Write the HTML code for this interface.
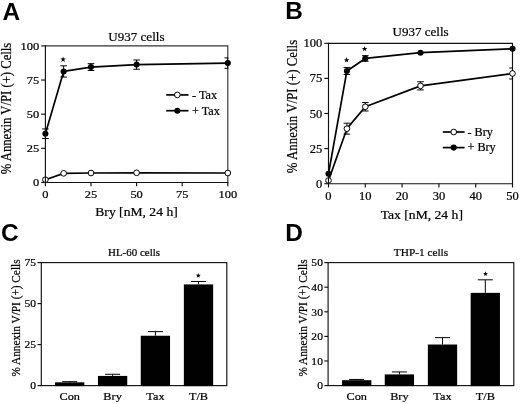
<!DOCTYPE html>
<html><head><meta charset="utf-8"><title>Figure</title>
<style>
html,body{margin:0;padding:0;background:#fff;}
body{width:520px;height:404px;overflow:hidden;font-family:"Liberation Serif",serif;}
svg{display:block;position:absolute;left:0;top:0;opacity:0.999;will-change:transform;filter:blur(0.3px);}
svg text{fill:#000;stroke:#000;stroke-linejoin:round;}
.se{font-family:"Liberation Serif",serif;font-weight:normal;}
.sb{font-family:"Liberation Sans",sans-serif;font-weight:bold;}
</style>
</head><body>
<svg width="520" height="404" viewBox="0 0 520 404">
<clipPath id="clipA"><rect x="35.4" y="35.9" width="192.9" height="156.6"/></clipPath>
<polyline fill="none" stroke="#333" stroke-width="1.15" points="45.4,45.9 227.8,45.9 227.8,182.5"/>
<g clip-path="url(#clipA)">
</g>
<polyline fill="none" stroke="#000" stroke-width="1.7" stroke-linejoin="round" points="45.4,179.7 63.64,173.35 91,173.01 136.6,172.8 227.8,173.01"/>
<circle cx="45.4" cy="179.7" r="2.85" fill="#fff" stroke="#000" stroke-width="1.0"/>
<circle cx="63.64" cy="173.35" r="2.85" fill="#fff" stroke="#000" stroke-width="1.0"/>
<circle cx="91" cy="173.01" r="2.85" fill="#fff" stroke="#000" stroke-width="1.0"/>
<circle cx="136.6" cy="172.8" r="2.85" fill="#fff" stroke="#000" stroke-width="1.0"/>
<circle cx="227.8" cy="173.01" r="2.85" fill="#fff" stroke="#000" stroke-width="1.0"/>
<g clip-path="url(#clipA)">
<line x1="45.4" y1="128.95" x2="45.4" y2="138.51" stroke="#000" stroke-width="1"/>
<line x1="42.1" y1="128.95" x2="48.7" y2="128.95" stroke="#000" stroke-width="1"/>
<line x1="42.1" y1="138.51" x2="48.7" y2="138.51" stroke="#000" stroke-width="1"/>
<line x1="63.64" y1="65.84" x2="63.64" y2="77.04" stroke="#000" stroke-width="1"/>
<line x1="60.34" y1="65.84" x2="66.94" y2="65.84" stroke="#000" stroke-width="1"/>
<line x1="60.34" y1="77.04" x2="66.94" y2="77.04" stroke="#000" stroke-width="1"/>
<line x1="91" y1="63.66" x2="91" y2="70.49" stroke="#000" stroke-width="1"/>
<line x1="87.7" y1="63.66" x2="94.3" y2="63.66" stroke="#000" stroke-width="1"/>
<line x1="87.7" y1="70.49" x2="94.3" y2="70.49" stroke="#000" stroke-width="1"/>
<line x1="136.6" y1="59.97" x2="136.6" y2="69.26" stroke="#000" stroke-width="1"/>
<line x1="133.3" y1="59.97" x2="139.9" y2="59.97" stroke="#000" stroke-width="1"/>
<line x1="133.3" y1="69.26" x2="139.9" y2="69.26" stroke="#000" stroke-width="1"/>
<line x1="227.8" y1="57.92" x2="227.8" y2="68.3" stroke="#000" stroke-width="1"/>
<line x1="224.5" y1="57.92" x2="231.1" y2="57.92" stroke="#000" stroke-width="1"/>
<line x1="224.5" y1="68.3" x2="231.1" y2="68.3" stroke="#000" stroke-width="1"/>
</g>
<polyline fill="none" stroke="#000" stroke-width="1.7" stroke-linejoin="round" points="45.4,133.73 63.64,71.44 91,67.07 136.6,64.61 227.8,63.11"/>
<circle cx="45.4" cy="133.73" r="3.05" fill="#000"/>
<circle cx="63.64" cy="71.44" r="3.05" fill="#000"/>
<circle cx="91" cy="67.07" r="3.05" fill="#000"/>
<circle cx="136.6" cy="64.61" r="3.05" fill="#000"/>
<circle cx="227.8" cy="63.11" r="3.05" fill="#000"/>
<polyline fill="none" stroke="#111" stroke-width="1.15" points="45.4,45.32 45.4,182.5 228.38,182.5"/>
<line x1="41.2" y1="182.5" x2="45.4" y2="182.5" stroke="#111" stroke-width="1.15"/>
<text class="se" transform="translate(39.2 186.4) scale(1.1 1)" font-size="11.3" text-anchor="end" stroke-width="0.22">0</text>
<line x1="41.2" y1="148.35" x2="45.4" y2="148.35" stroke="#111" stroke-width="1.15"/>
<text class="se" transform="translate(39.2 152.25) scale(1.1 1)" font-size="11.3" text-anchor="end" stroke-width="0.22">25</text>
<line x1="41.2" y1="114.2" x2="45.4" y2="114.2" stroke="#111" stroke-width="1.15"/>
<text class="se" transform="translate(39.2 118.1) scale(1.1 1)" font-size="11.3" text-anchor="end" stroke-width="0.22">50</text>
<line x1="41.2" y1="80.05" x2="45.4" y2="80.05" stroke="#111" stroke-width="1.15"/>
<text class="se" transform="translate(39.2 83.95) scale(1.1 1)" font-size="11.3" text-anchor="end" stroke-width="0.22">75</text>
<line x1="41.2" y1="45.9" x2="45.4" y2="45.9" stroke="#111" stroke-width="1.15"/>
<text class="se" transform="translate(39.2 49.8) scale(1.1 1)" font-size="11.3" text-anchor="end" stroke-width="0.22">100</text>
<line x1="45.4" y1="182.5" x2="45.4" y2="186.3" stroke="#111" stroke-width="1.15"/>
<text class="se" transform="translate(45.4 198.4) scale(1.1 1)" font-size="11.3" text-anchor="middle" stroke-width="0.22">0</text>
<line x1="91" y1="182.5" x2="91" y2="186.3" stroke="#111" stroke-width="1.15"/>
<text class="se" transform="translate(91 198.4) scale(1.1 1)" font-size="11.3" text-anchor="middle" stroke-width="0.22">25</text>
<line x1="136.6" y1="182.5" x2="136.6" y2="186.3" stroke="#111" stroke-width="1.15"/>
<text class="se" transform="translate(136.6 198.4) scale(1.1 1)" font-size="11.3" text-anchor="middle" stroke-width="0.22">50</text>
<line x1="182.2" y1="182.5" x2="182.2" y2="186.3" stroke="#111" stroke-width="1.15"/>
<text class="se" transform="translate(182.2 198.4) scale(1.1 1)" font-size="11.3" text-anchor="middle" stroke-width="0.22">75</text>
<line x1="227.8" y1="182.5" x2="227.8" y2="186.3" stroke="#111" stroke-width="1.15"/>
<text class="se" transform="translate(227.8 198.4) scale(1.1 1)" font-size="11.3" text-anchor="middle" stroke-width="0.22">100</text>
<polygon points="63.1,56.5 63.81,58.53 65.95,58.57 64.24,59.87 64.86,61.93 63.1,60.7 61.34,61.93 61.96,59.87 60.25,58.57 62.39,58.53" fill="#000"/>
<line x1="166.2" y1="94.9" x2="188.5" y2="94.9" stroke="#000" stroke-width="1.7"/>
<circle cx="177.35" cy="94.9" r="2.85" fill="#fff" stroke="#000" stroke-width="1.0"/>
<text class="se" transform="translate(192 98.7) scale(1.06 1)" font-size="11.5" text-anchor="start" stroke-width="0.22">- Tax</text>
<line x1="166.2" y1="110.7" x2="188.5" y2="110.7" stroke="#000" stroke-width="1.7"/>
<circle cx="177.35" cy="110.7" r="3.05" fill="#000"/>
<text class="se" transform="translate(192 114.5) scale(1.06 1)" font-size="11.5" text-anchor="start" stroke-width="0.22">+ Tax</text>
<text class="se" transform="translate(136.4 40.8) scale(1 1)" font-size="13.05" text-anchor="middle" stroke-width="0.22">U937 cells</text>
<text class="se" transform="translate(136.5 216) scale(1.1 1)" font-size="12.4" text-anchor="middle" stroke-width="0.22">Bry [nM, 24 h]</text>
<text class="se" transform="translate(11.3 108.5) rotate(-90) scale(1 1.1)" font-size="12.68" text-anchor="middle" stroke-width="0.22">% Annexin V/PI (+) Cells</text>
<text class="sb" transform="translate(2.4 20) scale(1 1)" font-size="24.4" text-anchor="start" stroke-width="0">A</text>
<clipPath id="clipB"><rect x="318.5" y="33.3" width="194.5" height="160.4"/></clipPath>
<polyline fill="none" stroke="#111" stroke-width="1.15" points="328.5,43.3 512.5,43.3 512.5,183.7"/>
<g clip-path="url(#clipB)">
<line x1="346.9" y1="123.19" x2="346.9" y2="134.14" stroke="#000" stroke-width="1"/>
<line x1="343.6" y1="123.19" x2="350.2" y2="123.19" stroke="#000" stroke-width="1"/>
<line x1="343.6" y1="134.14" x2="350.2" y2="134.14" stroke="#000" stroke-width="1"/>
<line x1="365.3" y1="102.55" x2="365.3" y2="110.97" stroke="#000" stroke-width="1"/>
<line x1="362" y1="102.55" x2="368.6" y2="102.55" stroke="#000" stroke-width="1"/>
<line x1="362" y1="110.97" x2="368.6" y2="110.97" stroke="#000" stroke-width="1"/>
<line x1="420.5" y1="81.77" x2="420.5" y2="89.91" stroke="#000" stroke-width="1"/>
<line x1="417.2" y1="81.77" x2="423.8" y2="81.77" stroke="#000" stroke-width="1"/>
<line x1="417.2" y1="89.91" x2="423.8" y2="89.91" stroke="#000" stroke-width="1"/>
<line x1="512.5" y1="68.01" x2="512.5" y2="78.96" stroke="#000" stroke-width="1"/>
<line x1="509.2" y1="68.01" x2="515.8" y2="68.01" stroke="#000" stroke-width="1"/>
<line x1="509.2" y1="78.96" x2="515.8" y2="78.96" stroke="#000" stroke-width="1"/>
</g>
<polyline fill="none" stroke="#000" stroke-width="1.7" stroke-linejoin="round" points="328.5,180.47 346.9,128.66 365.3,106.76 420.5,85.84 512.5,73.49"/>
<circle cx="328.5" cy="180.47" r="2.85" fill="#fff" stroke="#000" stroke-width="1.0"/>
<circle cx="346.9" cy="128.66" r="2.85" fill="#fff" stroke="#000" stroke-width="1.0"/>
<circle cx="365.3" cy="106.76" r="2.85" fill="#fff" stroke="#000" stroke-width="1.0"/>
<circle cx="420.5" cy="85.84" r="2.85" fill="#fff" stroke="#000" stroke-width="1.0"/>
<circle cx="512.5" cy="73.49" r="2.85" fill="#fff" stroke="#000" stroke-width="1.0"/>
<g clip-path="url(#clipB)">
<line x1="346.9" y1="67.45" x2="346.9" y2="74.47" stroke="#000" stroke-width="1"/>
<line x1="343.6" y1="67.45" x2="350.2" y2="67.45" stroke="#000" stroke-width="1"/>
<line x1="343.6" y1="74.47" x2="350.2" y2="74.47" stroke="#000" stroke-width="1"/>
<line x1="365.3" y1="55.66" x2="365.3" y2="61.27" stroke="#000" stroke-width="1"/>
<line x1="362" y1="55.66" x2="368.6" y2="55.66" stroke="#000" stroke-width="1"/>
<line x1="362" y1="61.27" x2="368.6" y2="61.27" stroke="#000" stroke-width="1"/>
</g>
<polyline fill="none" stroke="#000" stroke-width="1.7" stroke-linejoin="round" points="328.5,173.73 346.9,70.96 365.3,58.46 420.5,52.71 512.5,48.78"/>
<circle cx="328.5" cy="173.73" r="3.05" fill="#000"/>
<circle cx="346.9" cy="70.96" r="3.05" fill="#000"/>
<circle cx="365.3" cy="58.46" r="3.05" fill="#000"/>
<circle cx="420.5" cy="52.71" r="3.05" fill="#000"/>
<circle cx="512.5" cy="48.78" r="3.05" fill="#000"/>
<polyline fill="none" stroke="#111" stroke-width="1.15" points="328.5,42.72 328.5,183.7 513.08,183.7"/>
<line x1="324.3" y1="183.7" x2="328.5" y2="183.7" stroke="#111" stroke-width="1.15"/>
<text class="se" transform="translate(322.3 187.7) scale(1.07 1)" font-size="11.7" text-anchor="end" stroke-width="0.22">0</text>
<line x1="324.3" y1="148.6" x2="328.5" y2="148.6" stroke="#111" stroke-width="1.15"/>
<text class="se" transform="translate(322.3 152.6) scale(1.07 1)" font-size="11.7" text-anchor="end" stroke-width="0.22">25</text>
<line x1="324.3" y1="113.5" x2="328.5" y2="113.5" stroke="#111" stroke-width="1.15"/>
<text class="se" transform="translate(322.3 117.5) scale(1.07 1)" font-size="11.7" text-anchor="end" stroke-width="0.22">50</text>
<line x1="324.3" y1="78.4" x2="328.5" y2="78.4" stroke="#111" stroke-width="1.15"/>
<text class="se" transform="translate(322.3 82.4) scale(1.07 1)" font-size="11.7" text-anchor="end" stroke-width="0.22">75</text>
<line x1="324.3" y1="43.3" x2="328.5" y2="43.3" stroke="#111" stroke-width="1.15"/>
<text class="se" transform="translate(322.3 47.3) scale(1.07 1)" font-size="11.7" text-anchor="end" stroke-width="0.22">100</text>
<line x1="328.5" y1="183.7" x2="328.5" y2="187.5" stroke="#111" stroke-width="1.15"/>
<text class="se" transform="translate(328.5 199.6) scale(1.07 1)" font-size="11.7" text-anchor="middle" stroke-width="0.22">0</text>
<line x1="365.3" y1="183.7" x2="365.3" y2="187.5" stroke="#111" stroke-width="1.15"/>
<text class="se" transform="translate(365.3 199.6) scale(1.07 1)" font-size="11.7" text-anchor="middle" stroke-width="0.22">10</text>
<line x1="402.1" y1="183.7" x2="402.1" y2="187.5" stroke="#111" stroke-width="1.15"/>
<text class="se" transform="translate(402.1 199.6) scale(1.07 1)" font-size="11.7" text-anchor="middle" stroke-width="0.22">20</text>
<line x1="438.9" y1="183.7" x2="438.9" y2="187.5" stroke="#111" stroke-width="1.15"/>
<text class="se" transform="translate(438.9 199.6) scale(1.07 1)" font-size="11.7" text-anchor="middle" stroke-width="0.22">30</text>
<line x1="475.7" y1="183.7" x2="475.7" y2="187.5" stroke="#111" stroke-width="1.15"/>
<text class="se" transform="translate(475.7 199.6) scale(1.07 1)" font-size="11.7" text-anchor="middle" stroke-width="0.22">40</text>
<line x1="512.5" y1="183.7" x2="512.5" y2="187.5" stroke="#111" stroke-width="1.15"/>
<text class="se" transform="translate(512.5 199.6) scale(1.07 1)" font-size="11.7" text-anchor="middle" stroke-width="0.22">50</text>
<polygon points="346.6,57.1 347.31,59.13 349.45,59.17 347.74,60.47 348.36,62.53 346.6,61.3 344.84,62.53 345.46,60.47 343.75,59.17 345.89,59.13" fill="#000"/>
<polygon points="364.6,45.9 365.31,47.93 367.45,47.97 365.74,49.27 366.36,51.33 364.6,50.1 362.84,51.33 363.46,49.27 361.75,47.97 363.89,47.93" fill="#000"/>
<line x1="442.8" y1="132" x2="464.6" y2="132" stroke="#000" stroke-width="1.7"/>
<circle cx="453.7" cy="132" r="2.85" fill="#fff" stroke="#000" stroke-width="1.0"/>
<text class="se" transform="translate(467.5 135.8) scale(1.06 1)" font-size="11.5" text-anchor="start" stroke-width="0.22">- Bry</text>
<line x1="442.8" y1="147.6" x2="464.6" y2="147.6" stroke="#000" stroke-width="1.7"/>
<circle cx="453.7" cy="147.6" r="3.05" fill="#000"/>
<text class="se" transform="translate(467.5 151.4) scale(1.06 1)" font-size="11.5" text-anchor="start" stroke-width="0.22">+ Bry</text>
<text class="se" transform="translate(420.6 36.3) scale(1 1)" font-size="13.05" text-anchor="middle" stroke-width="0.22">U937 cells</text>
<text class="se" transform="translate(421.8 219.3) scale(1.1 1)" font-size="12.4" text-anchor="middle" stroke-width="0.22">Tax [nM, 24 h]</text>
<text class="se" transform="translate(297.3 106.5) rotate(-90) scale(1 1.1)" font-size="12.85" text-anchor="middle" stroke-width="0.22">% Annexin V/PI (+) Cells</text>
<text class="sb" transform="translate(285.3 18.8) scale(1 1)" font-size="24.4" text-anchor="start" stroke-width="0">B</text>
<rect x="41.3" y="262.6" width="185.5" height="123" fill="none" stroke="#111" stroke-width="1.15"/>
<line x1="37.5" y1="385.6" x2="41.3" y2="385.6" stroke="#111" stroke-width="1.15"/>
<text class="se" transform="translate(36.1 389.3) scale(1.1 1)" font-size="10.5" text-anchor="end" stroke-width="0.22">0</text>
<line x1="37.5" y1="344.6" x2="41.3" y2="344.6" stroke="#111" stroke-width="1.15"/>
<text class="se" transform="translate(36.1 348.3) scale(1.1 1)" font-size="10.5" text-anchor="end" stroke-width="0.22">25</text>
<line x1="37.5" y1="303.6" x2="41.3" y2="303.6" stroke="#111" stroke-width="1.15"/>
<text class="se" transform="translate(36.1 307.3) scale(1.1 1)" font-size="10.5" text-anchor="end" stroke-width="0.22">50</text>
<line x1="37.5" y1="262.6" x2="41.3" y2="262.6" stroke="#111" stroke-width="1.15"/>
<text class="se" transform="translate(36.1 266.3) scale(1.1 1)" font-size="10.5" text-anchor="end" stroke-width="0.22">75</text>
<line x1="69.7" y1="382.32" x2="69.7" y2="381.66" stroke="#000" stroke-width="1"/>
<line x1="62.2" y1="381.66" x2="77.2" y2="381.66" stroke="#000" stroke-width="1"/>
<rect x="55.05" y="382.32" width="29.3" height="3.78" fill="#000"/>
<text class="se" transform="translate(69.7 400.3) scale(1.1 1)" font-size="11.2" text-anchor="middle" stroke-width="0.22">Con</text>
<line x1="112.6" y1="375.92" x2="112.6" y2="374.28" stroke="#000" stroke-width="1"/>
<line x1="105.1" y1="374.28" x2="120.1" y2="374.28" stroke="#000" stroke-width="1"/>
<rect x="97.95" y="375.92" width="29.3" height="10.18" fill="#000"/>
<text class="se" transform="translate(112.6 400.3) scale(1.1 1)" font-size="11.2" text-anchor="middle" stroke-width="0.22">Bry</text>
<line x1="155.4" y1="335.74" x2="155.4" y2="331.64" stroke="#000" stroke-width="1"/>
<line x1="147.9" y1="331.64" x2="162.9" y2="331.64" stroke="#000" stroke-width="1"/>
<rect x="140.75" y="335.74" width="29.3" height="50.36" fill="#000"/>
<text class="se" transform="translate(155.4 400.3) scale(1.1 1)" font-size="11.2" text-anchor="middle" stroke-width="0.22">Tax</text>
<line x1="198.5" y1="284.41" x2="198.5" y2="281.46" stroke="#000" stroke-width="1"/>
<line x1="191" y1="281.46" x2="206" y2="281.46" stroke="#000" stroke-width="1"/>
<rect x="183.85" y="284.41" width="29.3" height="101.69" fill="#000"/>
<text class="se" transform="translate(198.5 400.3) scale(1.1 1)" font-size="11.2" text-anchor="middle" stroke-width="0.22">T/B</text>
<polygon points="198.3,273 198.91,274.76 200.77,274.8 199.29,275.92 199.83,277.7 198.3,276.64 196.77,277.7 197.31,275.92 195.83,274.8 197.69,274.76" fill="#000"/>
<text class="se" transform="translate(134 255.6) scale(1 1)" font-size="10.95" text-anchor="middle" stroke-width="0.22">HL-60 cells</text>
<text class="se" transform="translate(20 318) rotate(-90) scale(1 1.1)" font-size="11.3" text-anchor="middle" stroke-width="0.22">% Annexin V/PI (+) Cells</text>
<text class="sb" transform="translate(1.1 240.6) scale(1 1)" font-size="24.4" text-anchor="start" stroke-width="0">C</text>
<rect x="328.1" y="262.6" width="185.7" height="123" fill="none" stroke="#111" stroke-width="1.15"/>
<line x1="324.3" y1="385.6" x2="328.1" y2="385.6" stroke="#111" stroke-width="1.15"/>
<text class="se" transform="translate(322.9 389.3) scale(1.1 1)" font-size="10.5" text-anchor="end" stroke-width="0.22">0</text>
<line x1="324.3" y1="361" x2="328.1" y2="361" stroke="#111" stroke-width="1.15"/>
<text class="se" transform="translate(322.9 364.7) scale(1.1 1)" font-size="10.5" text-anchor="end" stroke-width="0.22">10</text>
<line x1="324.3" y1="336.4" x2="328.1" y2="336.4" stroke="#111" stroke-width="1.15"/>
<text class="se" transform="translate(322.9 340.1) scale(1.1 1)" font-size="10.5" text-anchor="end" stroke-width="0.22">20</text>
<line x1="324.3" y1="311.8" x2="328.1" y2="311.8" stroke="#111" stroke-width="1.15"/>
<text class="se" transform="translate(322.9 315.5) scale(1.1 1)" font-size="10.5" text-anchor="end" stroke-width="0.22">30</text>
<line x1="324.3" y1="287.2" x2="328.1" y2="287.2" stroke="#111" stroke-width="1.15"/>
<text class="se" transform="translate(322.9 290.9) scale(1.1 1)" font-size="10.5" text-anchor="end" stroke-width="0.22">40</text>
<line x1="324.3" y1="262.6" x2="328.1" y2="262.6" stroke="#111" stroke-width="1.15"/>
<text class="se" transform="translate(322.9 266.3) scale(1.1 1)" font-size="10.5" text-anchor="end" stroke-width="0.22">50</text>
<line x1="356.7" y1="380.19" x2="356.7" y2="379.45" stroke="#000" stroke-width="1"/>
<line x1="349.2" y1="379.45" x2="364.2" y2="379.45" stroke="#000" stroke-width="1"/>
<rect x="342.05" y="380.19" width="29.3" height="5.91" fill="#000"/>
<text class="se" transform="translate(356.7 400.3) scale(1.1 1)" font-size="11.2" text-anchor="middle" stroke-width="0.22">Con</text>
<line x1="399.4" y1="374.41" x2="399.4" y2="371.95" stroke="#000" stroke-width="1"/>
<line x1="391.9" y1="371.95" x2="406.9" y2="371.95" stroke="#000" stroke-width="1"/>
<rect x="384.75" y="374.41" width="29.3" height="11.69" fill="#000"/>
<text class="se" transform="translate(399.4 400.3) scale(1.1 1)" font-size="11.2" text-anchor="middle" stroke-width="0.22">Bry</text>
<line x1="442.5" y1="344.52" x2="442.5" y2="337.63" stroke="#000" stroke-width="1"/>
<line x1="435" y1="337.63" x2="450" y2="337.63" stroke="#000" stroke-width="1"/>
<rect x="427.85" y="344.52" width="29.3" height="41.58" fill="#000"/>
<text class="se" transform="translate(442.5 400.3) scale(1.1 1)" font-size="11.2" text-anchor="middle" stroke-width="0.22">Tax</text>
<line x1="485.3" y1="292.86" x2="485.3" y2="279.82" stroke="#000" stroke-width="1"/>
<line x1="477.8" y1="279.82" x2="492.8" y2="279.82" stroke="#000" stroke-width="1"/>
<rect x="470.65" y="292.86" width="29.3" height="93.24" fill="#000"/>
<text class="se" transform="translate(485.3 400.3) scale(1.1 1)" font-size="11.2" text-anchor="middle" stroke-width="0.22">T/B</text>
<polygon points="485.5,271.3 486.11,273.06 487.97,273.1 486.49,274.22 487.03,276 485.5,274.94 483.97,276 484.51,274.22 483.03,273.1 484.89,273.06" fill="#000"/>
<text class="se" transform="translate(421 255.6) scale(1 1)" font-size="11.3" text-anchor="middle" stroke-width="0.22">THP-1 cells</text>
<text class="se" transform="translate(306.9 318) rotate(-90) scale(1 1.1)" font-size="11.3" text-anchor="middle" stroke-width="0.22">% Annexin V/PI (+) Cells</text>
<text class="sb" transform="translate(285.3 240.5) scale(1 1)" font-size="24.4" text-anchor="start" stroke-width="0">D</text>
</svg>
</body></html>
